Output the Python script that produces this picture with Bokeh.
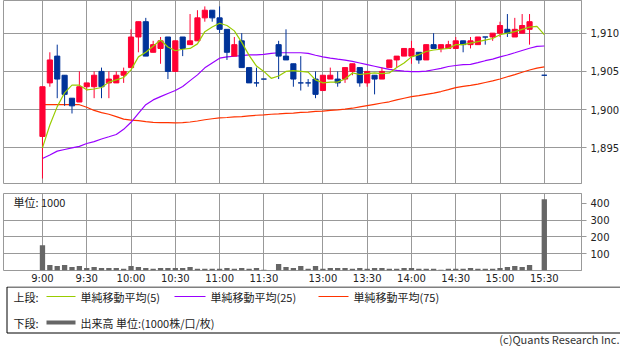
from bokeh.plotting import figure
from bokeh.models import Range1d, FixedTicker, NumeralTickFormatter, Label, ColumnDataSource
from bokeh.layouts import column
from bokeh.embed import file_html
from bokeh.resources import INLINE
from bokeh.core.properties import value

# ---------------- data ----------------
# 5-minute bar slots: 0 = 9:00 ... 30 = 11:30, 32 = 12:30 ... 68 = 15:30
slots = list(range(0, 31)) + list(range(32, 67)) + [68]
opens = [1896.5, 1903.5, 1907, 1904.5, 1901.5, 1901, 1903, 1903, 1905, 1903.5,
         1903.5, 1904.5, 1905.5, 1909.5, 1911.5, 1907.5, 1908, 1909.5, 1905, 1909.5,
         1908.5, 1909, 1912, 1913, 1912, 1910.5, 1907, 1909, 1905.5, 1903.5, 1904,
         1908.5, 1907, 1906, 1903.5, 1903.5, 1904, 1902.5, 1904, 1904, 1904,
         1905, 1905.5, 1903.5, 1904.5, 1904, 1905.5, 1906.5, 1907, 1907, 1907.5,
         1906.5, 1908.5, 1908, 1908, 1908, 1909, 1908.5, 1908.5, 1909.5, 1909.5,
         1910, 1910.5, 1909.5, 1910, 1910.5, 1904.5]
highs = [1903, 1907.5, 1908.5, 1904.5, 1901.5, 1905, 1903.5, 1905, 1905.5, 1905,
         1905, 1905.5, 1910.5, 1911.5, 1912, 1909, 1909.5, 1909.5, 1909, 1909.5,
         1912.5, 1913, 1913.5, 1913, 1913.5, 1910.5, 1909.5, 1910, 1905.5, 1905.5, 1904,
         1909, 1910.5, 1906, 1907, 1904, 1905, 1904.5, 1905.5, 1905, 1905.5,
         1906, 1905.5, 1905, 1904.5, 1905.5, 1906.5, 1907, 1908, 1909, 1907.5,
         1908.5, 1910, 1908.5, 1909, 1909.5, 1909, 1909.5, 1909.5, 1909.5, 1910,
         1911.5, 1912.5, 1912, 1912.5, 1912.5, 1904.5]
lows = [1891, 1903, 1901.5, 1900.5, 1899.5, 1901, 1902.5, 1901.5, 1901.5, 1901.5,
        1903.5, 1903.5, 1905.5, 1907.5, 1907, 1907.5, 1906, 1904, 1905, 1907,
        1908.5, 1909, 1911.5, 1911.5, 1910, 1906.5, 1907, 1905.5, 1903.5, 1903, 1904,
        1904, 1906.5, 1903, 1902.5, 1903, 1901.5, 1902.5, 1904, 1903, 1903.5,
        1904.5, 1903, 1903, 1902, 1904, 1905.5, 1905.5, 1907, 1906, 1906,
        1906.5, 1908, 1907.5, 1908, 1908, 1907.5, 1908, 1908.5, 1908.5, 1909,
        1909.5, 1909.5, 1909.5, 1910, 1908.5, 1904.5]
closes = [1903, 1906.5, 1904, 1902, 1900.5, 1903, 1903.5, 1904.5, 1903, 1904,
          1904.5, 1905, 1909.5, 1911.5, 1907, 1908.5, 1909, 1905, 1909, 1908,
          1909, 1912, 1913, 1912, 1910.5, 1907.5, 1908.5, 1905.5, 1903.5, 1903.5, 1904,
          1907, 1906.5, 1904, 1903.5, 1903.5, 1902, 1904.5, 1904.5, 1903.5, 1905.5,
          1906, 1903.5, 1905, 1904, 1905, 1906.5, 1907, 1908, 1908, 1906.5,
          1908.5, 1908, 1908.5, 1908.5, 1909, 1908.5, 1909, 1909.5, 1909.5, 1910,
          1911, 1910, 1910.5, 1911, 1911.5, 1904.5]
volume = [150, 33, 27, 33, 21, 27, 15, 21, 15, 15,
          15, 10, 27, 21, 15, 10, 15, 15, 15, 15,
          21, 10, 10, 10, 10, 15, 10, 15, 10, 15, 4,
          39, 21, 15, 27, 10, 27, 10, 15, 15, 15,
          10, 15, 10, 15, 15, 10, 10, 15, 15, 10,
          10, 10, 4, 10, 10, 10, 15, 10, 10, 10,
          15, 21, 27, 21, 33, 425]

ma_slots = list(range(0, 69))
ma5 = [1895.0, 1898.0, 1900.4, 1902.2, 1903.2, 1903.2, 1902.6, 1902.7, 1902.9, 1903.6,
       1903.9, 1904.2, 1905.2, 1906.9, 1907.5, 1908.3, 1909.1, 1908.2, 1907.7, 1907.9,
       1908.0, 1908.6, 1910.2, 1910.8, 1911.3, 1911.0, 1910.3, 1908.8, 1907.1, 1905.7,
       1905.0, 1904.1, 1904.4, 1905.0, 1905.1, 1905.0, 1904.9, 1903.9, 1903.5, 1903.6,
       1903.6, 1904.0, 1904.8, 1904.6, 1904.7, 1904.8, 1904.7, 1904.8, 1905.5, 1906.1,
       1906.9, 1907.2, 1907.6, 1907.8, 1907.9, 1908.0, 1908.5, 1908.5, 1908.7, 1908.9,
       1909.1, 1909.3, 1909.8, 1910.0, 1910.2, 1910.5, 1910.8, 1910.9, 1909.8]
ma25 = [1893.61, 1894.07, 1894.58, 1894.79, 1895.00, 1895.21, 1895.58, 1895.83, 1896.17, 1896.46,
        1896.76, 1897.43, 1898.35, 1899.52, 1900.65, 1901.28, 1901.70, 1902.12, 1902.50, 1903.04,
        1903.80, 1904.55, 1905.47, 1906.10, 1906.73, 1906.90, 1906.98, 1907.07, 1907.15, 1907.15,
        1907.23, 1907.36, 1907.44, 1907.44, 1907.44, 1907.44, 1907.36, 1907.11, 1906.90, 1906.73,
        1906.60, 1906.48, 1906.31, 1906.10, 1905.89, 1905.68, 1905.47, 1905.26, 1905.14, 1905.05,
        1904.97, 1904.97, 1905.05, 1905.22, 1905.39, 1905.64, 1905.77, 1905.89, 1905.93, 1906.14,
        1906.40, 1906.60, 1906.90, 1907.15, 1907.44, 1907.74, 1908.03, 1908.28, 1908.32]
ma75 = [1900.65, 1900.65, 1900.65, 1900.65, 1900.65, 1900.65, 1900.32, 1899.90, 1899.61, 1899.40,
        1899.10, 1898.77, 1898.64, 1898.56, 1898.43, 1898.35, 1898.31, 1898.31, 1898.28, 1898.31,
        1898.39, 1898.52, 1898.68, 1898.81, 1898.93, 1898.98, 1899.06, 1899.10, 1899.19, 1899.27,
        1899.31, 1899.40, 1899.44, 1899.52, 1899.56, 1899.65, 1899.69, 1899.77, 1899.82, 1899.90,
        1899.98, 1900.07, 1900.19, 1900.36, 1900.53, 1900.70, 1900.87, 1901.03, 1901.28, 1901.49,
        1901.70, 1901.83, 1902.00, 1902.16, 1902.37, 1902.62, 1902.88, 1903.04, 1903.17, 1903.34,
        1903.55, 1903.76, 1904.01, 1904.30, 1904.59, 1904.89, 1905.18, 1905.43, 1905.60]

tick_slots = [0, 6, 12, 18, 24, 30, 38, 44, 50, 56, 62, 68]
tick_labels = ["9:00", "9:30", "10:00", "10:30", "11:00", "11:30",
               "13:00", "13:30", "14:00", "14:30", "15:00", "15:30"]
price_ticks = [1895, 1900, 1905, 1910]
vol_ticks = [100, 200, 300, 400]
vol_grid_ticks = [100, 200, 300]

legend_names = ["単純移動平均(5)", "単純移動平均(25)", "単純移動平均(75)"]

# ---------------- style ----------------
UP = "#ff0033"
DOWN = "#003399"
C_MA5 = "#99cc00"
C_MA25 = "#9900ff"
C_MA75 = "#ff3300"
GRID = "#999999"
VOLC = "#666666"
TXT = "#222222"
AXFONT = "DejaVu Sans"
JPFONT = "Noto Sans CJK JP"

FRAME_W = 578
X_RANGE = Range1d(-5.28, 73.04)

colors = [UP if c > o else DOWN for o, c in zip(opens, closes)]
tops = [max(o, c) for o, c in zip(opens, closes)]
bottoms = [min(o, c) for o, c in zip(opens, closes)]
src = ColumnDataSource(dict(x=slots, o=opens, h=highs, l=lows, c=closes,
                            top=tops, bottom=bottoms, color=colors, vol=volume))
ma_src = ColumnDataSource(dict(x=ma_slots, ma5=ma5, ma25=ma25, ma75=ma75))


def style_axis(ax):
    ax.axis_line_color = GRID
    ax.major_tick_line_color = GRID
    ax.major_tick_out = 5
    ax.major_tick_in = 0
    ax.minor_tick_line_color = None
    ax.major_label_text_font = AXFONT
    ax.major_label_text_font_size = "10px"
    ax.major_label_text_color = TXT
    ax.major_label_standoff = 4


# ---------------- main price chart ----------------
p = figure(frame_width=FRAME_W, frame_height=183, x_range=X_RANGE,
           y_range=Range1d(1890.35, 1914.27), x_axis_location=None,
           y_axis_location="right", toolbar_location=None, output_backend="svg",
           min_border_left=3, min_border_top=0, min_border_bottom=10, min_border_right=0)
p.outline_line_color = GRID
p.xgrid.ticker = FixedTicker(ticks=tick_slots)
p.xgrid.grid_line_color = GRID
p.ygrid.grid_line_color = GRID
p.yaxis.ticker = FixedTicker(ticks=price_ticks)
p.yaxis.formatter = NumeralTickFormatter(format="0,0")
style_axis(p.yaxis[0])

p.line("x", "ma75", source=ma_src, line_color=C_MA75, line_width=1.2)
p.line("x", "ma25", source=ma_src, line_color=C_MA25, line_width=1.2)
p.segment(x0="x", y0="l", x1="x", y1="h", source=src, line_color="color", line_width=1)
p.vbar(x="x", width=0.7, top="top", bottom="bottom", source=src,
       fill_color="color", line_color="color", line_width=1)
p.line("x", "ma5", source=ma_src, line_color=C_MA5, line_width=1.2)

# ---------------- volume chart ----------------
v = figure(frame_width=FRAME_W, frame_height=77, x_range=X_RANGE,
           y_range=Range1d(0, 459), y_axis_location="right",
           toolbar_location=None, output_backend="svg",
           min_border_left=3, min_border_top=0, min_border_bottom=0, min_border_right=0)
v.outline_line_color = GRID
v.xgrid.ticker = FixedTicker(ticks=tick_slots)
v.xgrid.grid_line_color = GRID
v.ygrid.ticker = FixedTicker(ticks=vol_grid_ticks)
v.ygrid.grid_line_color = GRID
v.yaxis.ticker = FixedTicker(ticks=vol_ticks)
style_axis(v.yaxis[0])
v.xaxis.ticker = FixedTicker(ticks=tick_slots)
v.xaxis.major_label_overrides = {k: lab for k, lab in zip(tick_slots, tick_labels)}
style_axis(v.xaxis[0])
v.xaxis.major_tick_out = 0
v.xaxis.axis_line_color = None
v.xaxis.major_label_standoff = 2

v.vbar(x="x", width=0.72, top="vol", bottom=0, source=src, fill_color=VOLC, line_color=None)
v.add_layout(Label(x=-3.93, y=411, text="単位: 1000", text_font=JPFONT, text_font_size="11px",
                   text_color=TXT, text_baseline="middle"))

# ---------------- legend / footer ----------------
LW, LH = 620, 60
g = figure(frame_width=LW, frame_height=LH, x_range=Range1d(0, LW), y_range=Range1d(LH, 0),
           x_axis_location=None, y_axis_location=None, toolbar_location=None,
           output_backend="svg", min_border_left=0, min_border_right=0,
           min_border_top=0, min_border_bottom=0)
g.grid.visible = False
g.outline_line_color = None
g.quad(left=3.5, right=LW - 0.5, top=0.5, bottom=46.5, fill_color=None,
       line_color="#000000", line_width=1)

row1 = 10
row2 = 36
g.segment(x0=[43, 171, 315], y0=[row1] * 3, x1=[72, 202, 345], y1=[row1] * 3,
          line_color=[C_MA5, C_MA25, C_MA75], line_width=1.2)
g.segment(x0=[43], y0=[row2], x1=[72], y1=[row2], line_color=VOLC, line_width=4)
g.text(x=[10, 77, 207, 350, 10, 77], y=[row1, row1, row1, row1, row2, row2],
       text=["上段:"] + legend_names + ["下段:", "出来高 単位:(1000株/口/枚)"],
       text_font=value(JPFONT), text_font_size="11px", text_color=TXT,
       text_baseline="middle", text_align="left")
g.text(x=[616], y=[52], text=["(c)Quants Research Inc."], text_font=value(JPFONT),
       text_font_size="11px", text_color="#333333", text_baseline="middle", text_align="right")

layout = column(p, v, g, spacing=0)
open("out.html", "w").write(file_html(layout, INLINE))
